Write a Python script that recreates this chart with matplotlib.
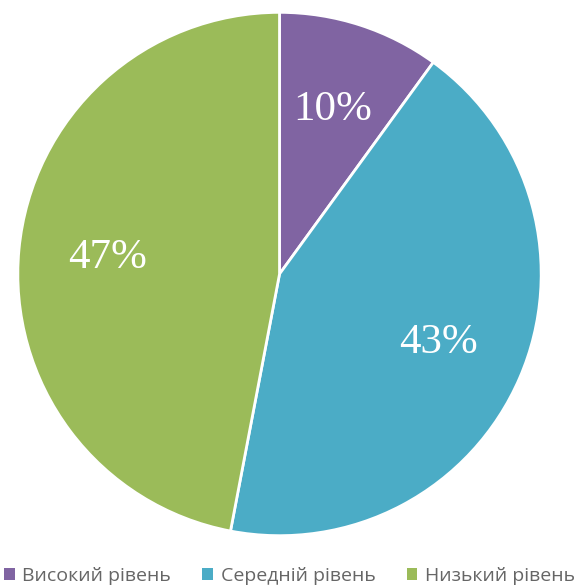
import matplotlib.pyplot as plt

# data
labels = ["Високий рівень", "Середній рівень", "Низький рівень"]
shares = [10, 43, 47]
colors = ["#8064A2", "#4BACC6", "#9BBB59"]

fig = plt.figure(figsize=(5.79, 5.87), dpi=100)

# pie placed by hand so it fills the picture like the original
ax = fig.add_axes([0.0285, 0.0852, 0.9085, 0.896])
wedges, texts, autotexts = ax.pie(
    shares, colors=colors, startangle=90, counterclock=False,
    autopct="%1.0f%%", pctdistance=0.66, radius=1,
    wedgeprops=dict(edgecolor="white", linewidth=2),
    textprops=dict(color="white", fontsize=31, family="Liberation Serif"))
ax.set_xlim(-1.005, 1.005)
ax.set_ylim(-1.005, 1.005)
ax.axis("off")

leg = fig.legend(wedges, labels, loc="center", ncol=3,
                 bbox_to_anchor=(0.5, 11 / 587), frameon=False,
                 handlelength=0.55, handleheight=0.55, handletextpad=0.4,
                 columnspacing=1.6, borderpad=0, borderaxespad=0,
                 prop=dict(family="Open Sans", size=14))
for t in leg.get_texts():
    t.set_color("#666666")
for h in leg.legend_handles:
    h.set_edgecolor("none")

fig.savefig("out.png", dpi=100)
